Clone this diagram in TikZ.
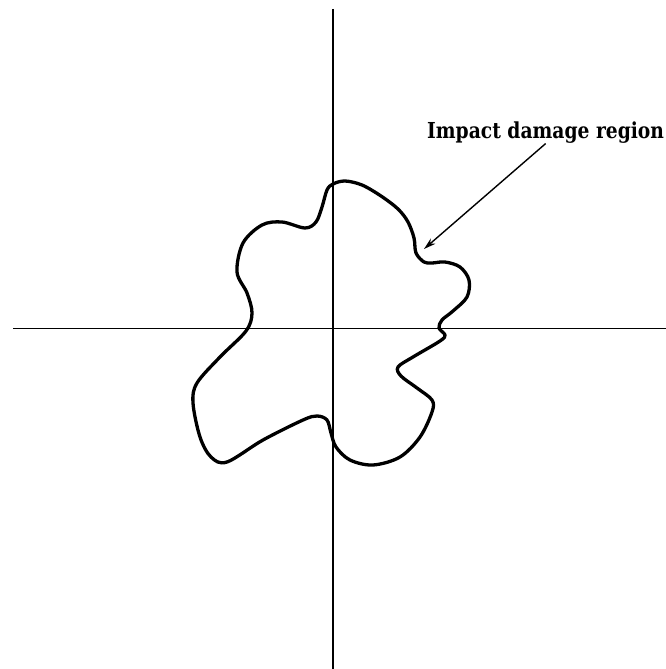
\documentclass[tikz,border=0pt]{standalone}
\usepackage{fontspec}
\usetikzlibrary{arrows.meta}
\newfontfamily\labelfont{DejaVu Serif}
\begin{document}
\begin{tikzpicture}[x=1pt,y=-1pt,
  axis/.style={line width=1.9pt,black},
  blob/.style={line width=3.3pt,black,line join=round},
  pointer/.style={line width=1.4pt,black,-{Stealth[length=12pt,width=7pt]}},
  lbl/.style={font=\labelfont\bfseries\fontsize{22}{26}\selectfont,inner sep=0pt,anchor=base west}]
\useasboundingbox (0,0) rectangle (666,669);
\coordinate (vt) at (333,9);
\coordinate (vb) at (333,669);
\coordinate (hl) at (13,328.5);
\coordinate (hr) at (666,328.5);
\draw[axis] (vt) -- (vb);
\draw[axis] (hl) -- (hr);
\draw[blob] plot[smooth cycle, tension=0.55] coordinates {
 (333,184) (345,181) (362,185) (381,196) (398,209) (408,222) (414,238) (416,253) (424,262) (432,263)
 (445,262) (460,267) (469,280) (467,297) (453,311) (442,320) (439,328) (445,335) (440,341)
 (413,357) (398,367) (401,376) (417,388) (432,400) (432,412) (420,437) (400,457) (373,465)
 (350,460) (336,447) (331,433) (327,420) (317,416) (303,420) (263,440) (227,462) (211,457)
 (200,437) (193,403) (197,383) (220,357) (246,331) (252,313) (247,293) (237,272) (243,243)
 (262,225) (282,222) (305,228) (316,222) (322,207) (327,190)};
\node[lbl] (label) at (427,138.5) {\scalebox{0.85}[1]{Impact damage region}};
\coordinate (tip) at (424,249);
\draw[pointer] (label.south) -- (tip);
\end{tikzpicture}
\end{document}
